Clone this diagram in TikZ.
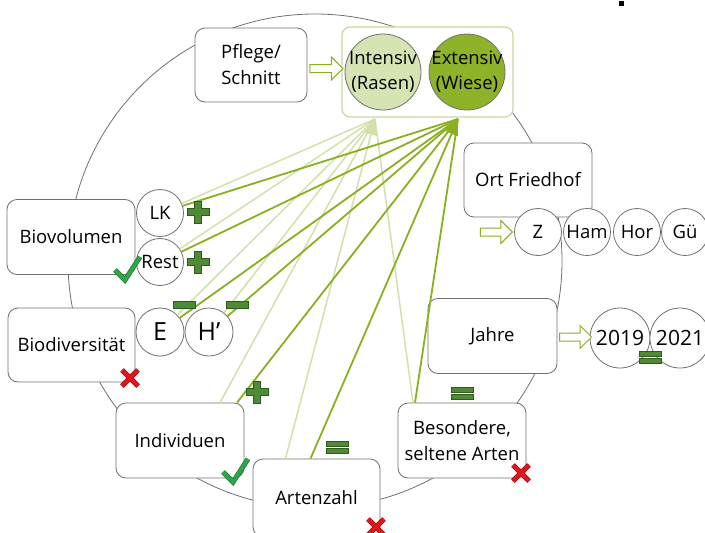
\documentclass[tikz,border=0pt]{standalone}
\usepackage{fontspec}
\setmainfont{Open Sans}
\usetikzlibrary{arrows.meta,calc,positioning,shapes.arrows}
\definecolor{framegray}{HTML}{707070}
\definecolor{boxframe}{HTML}{C8DAA0}
\definecolor{rasengreen}{HTML}{D6E3B2}
\definecolor{wiesegreen}{HTML}{8FB22B}
\definecolor{lightgreen}{HTML}{D2E0AA}
\definecolor{darkgreen}{HTML}{88B01F}
\definecolor{signgreen}{HTML}{4F8A36}
\definecolor{signedge}{HTML}{2E5A1E}
\definecolor{tickgreen}{HTML}{2FA54A}
\definecolor{crossred}{HTML}{E3141C}
\tikzset{
  item box/.style={draw=framegray,fill=white,rounded corners=10pt,line width=0.8pt,minimum width=128pt,minimum height=75pt,align=center,font=\fontsize{18.5}{26}\selectfont},
  sub circle/.style={circle,draw=framegray,fill=white,line width=0.8pt,minimum size=47pt,inner sep=-2pt,font=\fontsize{18.5}{20}\selectfont},
  mode circle/.style={circle,draw=framegray,line width=0.8pt,minimum size=76pt,inner sep=-3pt,align=center,font=\fontsize{18.5}{25}\selectfont},
  hollow arrow/.style={single arrow,draw=darkgreen,fill=white,line width=1pt,inner sep=0pt,inner ysep=3.5pt,single arrow head extend=7.5pt,minimum height=32pt},
  light link/.style={lightgreen,line width=1.5pt},
  dark link/.style={darkgreen,line width=1.8pt},
  sign/.style={fill=signgreen,draw=signedge,line width=0.5pt},
  plus sign/.pic={\filldraw[sign] (-3.5,-11) -- (3.5,-11) -- (3.5,-3.5) -- (11,-3.5) -- (11,3.5) -- (3.5,3.5) -- (3.5,11) -- (-3.5,11) -- (-3.5,3.5) -- (-11,3.5) -- (-11,-3.5) -- (-3.5,-3.5) -- cycle;},
  minus sign/.pic={\filldraw[sign] (-11,-3.5) rectangle (11,3.5);},
  equal sign/.pic={\filldraw[sign] (-11,-6) rectangle (11,-1); \filldraw[sign] (-11,1) rectangle (11,6);},
  tick mark/.pic={\draw[tickgreen!70!black,line width=5pt] (-12,2) -- (-2,12) -- (13,-11); \draw[tickgreen,line width=3.6pt] (-12,2) -- (-2,12) -- (13,-11);},
  cross mark/.pic={\draw[crossred!70!black,line width=5pt] (-8,-8) -- (8,8) (-8,8) -- (8,-8); \draw[crossred,line width=3.6pt] (-8,-8) -- (8,8) (-8,8) -- (8,-8);},
}

\begin{document}
\begin{tikzpicture}[x=1pt,y=-1pt]
  \useasboundingbox (0,0) rectangle (705,533);
  \fill (619,1) rectangle (624,6);
  \draw[framegray,line width=0.8pt] (315,261) circle[radius=247];

  \node[item box,minimum width=112pt,minimum height=74pt] (pflege) at (251,65) {Pflege/\\Schnitt};
  \node[draw=boxframe,fill=white,line width=1.3pt,rounded corners=8pt,minimum width=171pt,minimum height=90pt] (mode) at (427.5,72) {};
  \node[mode circle,fill=rasengreen] (intensiv) at (383,72) {Intensiv\\(Rasen)};
  \node[mode circle,fill=wiesegreen] (extensiv) at (467,72) {Extensiv\\(Wiese)};

  \node[item box] (bio) at (71,237) {Biovolumen};
  \node[sub circle] (lk) at (160,213) {LK};
  \node[sub circle] (rest) at (160,262) {Rest};
  \node[item box,minimum width=127pt,minimum height=74pt] (div) at (71.5,345) {Biodiversität};
  \node[sub circle,minimum size=48pt,font=\fontsize{25}{26}\selectfont] (e) at (160,332) {E};
  \node[sub circle,minimum size=48pt,font=\fontsize{25}{26}\selectfont] (h) at (209,332) {H’};
  \node[item box] (ind) at (180,440.5) {Individuen};
  \node[item box,minimum width=127pt,minimum height=78pt] (art) at (316.5,498) {Artenzahl};
  \node[item box] (bes) at (462,440.5) {Besondere,\\seltene Arten};

  \node[item box,minimum height=74pt] (ort) at (528,180) {Ort Friedhof};
  \node[sub circle] (z) at (538,232) {Z};
  \node[sub circle] (ham) at (587,232) {Ham};
  \node[sub circle] (hor) at (637,232) {Hor};
  \node[sub circle] (gu) at (685,232) {Gü};
  \node[item box,minimum width=129pt] (jahre) at (492.5,336) {Jahre};
  \node[sub circle,minimum size=60pt,font=\fontsize{21}{22}\selectfont] (y19) at (620,338) {2019};
  \node[sub circle,minimum size=60pt,font=\fontsize{21}{22}\selectfont] (y21) at (680,338) {2021};

  \node[hollow arrow,minimum height=33pt] (a1) at ($(pflege.east)!0.5!(mode.west)$) {};
  \node[hollow arrow,left=1pt of z] (a2) {};
  \node[hollow arrow] (a3) at ($(jahre.east)!0.5!(y19.west)$) {};

  \coordinate (tipI) at (375,119);
  \coordinate (tipE) at (458,119);
  \draw[light link] (lk) -- (tipI);
  \draw[light link] (rest) -- (tipI);
  \draw[light link] (e) -- (tipI);
  \draw[light link] (h) -- (tipI);
  \draw[light link] ([xshift=40pt]ind.north) -- (tipI);
  \draw[light link,-{Triangle[length=16pt,width=13pt]}] ([xshift=-31pt]art.north) -- (tipI);
  \draw[light link] ([xshift=-49pt]bes.north) -- (tipI);
  \draw[dark link] (lk) -- (tipE);
  \draw[dark link] (rest) -- (tipE);
  \draw[dark link] (e) -- (tipE);
  \draw[dark link] (h) -- (tipE);
  \draw[dark link] ([xshift=57pt]ind.north) -- (tipE);
  \draw[dark link,-{Triangle[length=16pt,width=13pt]}] ([xshift=-6pt]art.north) -- (tipE);
  \draw[dark link] ([xshift=-47pt]bes.north) -- (tipE);

  \pic at (198,212) {plus sign};
  \pic at (198,262) {plus sign};
  \pic at (184,305) {minus sign};
  \pic at (237,305) {minus sign};
  \pic at (257,392) {plus sign};
  \pic at (337,447) {equal sign};
  \pic at (462,393) {equal sign};
  \pic at (650,357) {equal sign};
  \pic at (127,268) {tick mark};
  \pic at (235,470) {tick mark};
  \pic at (130,378) {cross mark};
  \pic at (376,527) {cross mark};
  \pic at (521,473) {cross mark};
\end{tikzpicture}
\end{document}
